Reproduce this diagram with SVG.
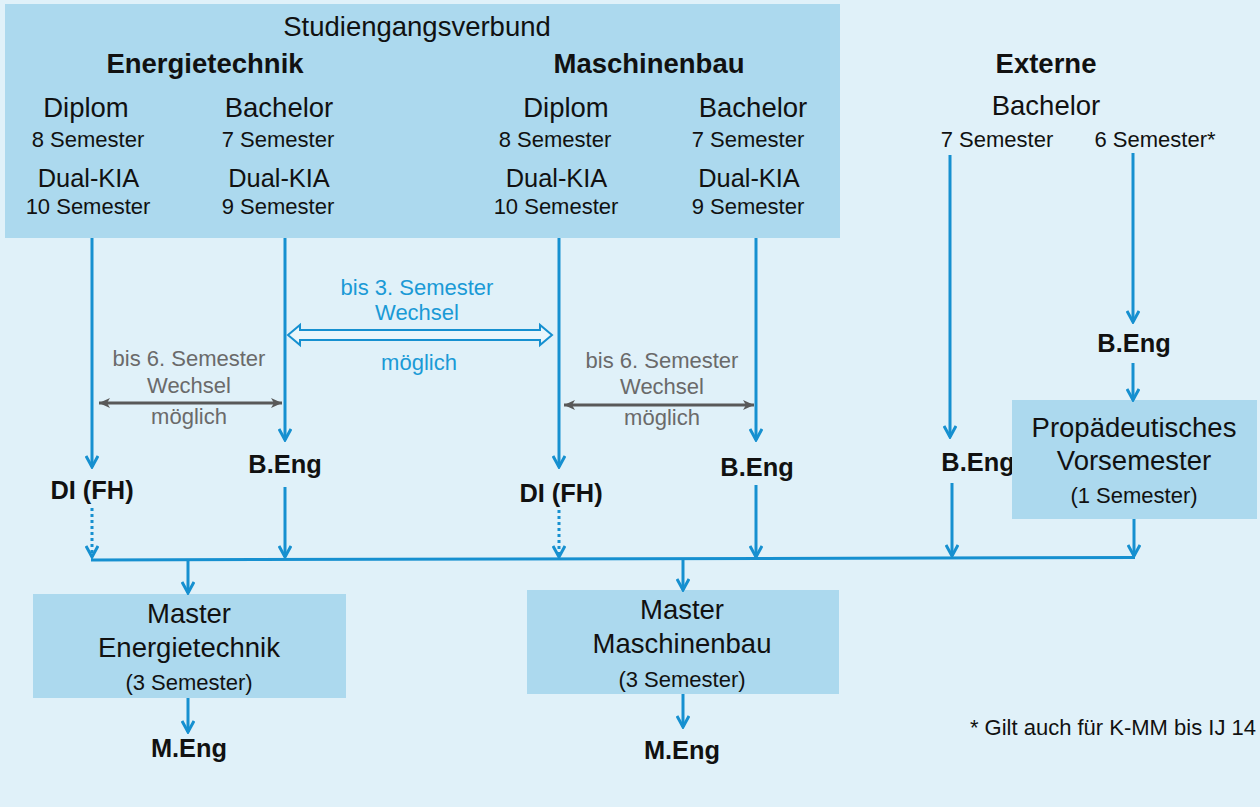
<svg xmlns="http://www.w3.org/2000/svg" width="1260" height="807" viewBox="0 0 1260 807">
<style>
text{font-family:"Liberation Sans",Arial,sans-serif;fill:#111;text-anchor:middle}
.b{font-weight:bold}
.t26{font-size:27.5px}
.t24{font-size:25.4px}
.t21{font-size:22px}
.box{fill:#acd9ee}
.ln{stroke:#1690d0;stroke-width:3;fill:none}
.dot{stroke:#1690d0;stroke-width:3;fill:none;stroke-dasharray:3 3}
.gl{stroke:#595959;stroke-width:3;fill:none}
.blue{fill:#1a9ad6}
.grey{fill:#6a6a6a}
</style>
<defs>
<marker id="ah" viewBox="0 0 14 14" refX="12.5" refY="7" markerWidth="14" markerHeight="14" markerUnits="userSpaceOnUse" orient="auto">
<path d="M1.5,1 L12.5,7 L1.5,13" fill="none" stroke="#1690d0" stroke-width="3"/>
</marker>
<marker id="gh" viewBox="0 0 12 12" refX="11" refY="6" markerWidth="12" markerHeight="12" markerUnits="userSpaceOnUse" orient="auto-start-reverse">
<path d="M0,1 L11,6 L0,11 L3,6 Z" fill="#595959"/>
</marker>
</defs>
<rect x="0" y="0" width="1260" height="807" fill="#e0f1f9"/>

<g id="verbund">
<rect class="box" x="5" y="4" width="835" height="234"/>
<text class="t26" x="417" y="36">Studiengangsverbund</text>
</g>
<g id="energietechnik">
<text class="b t26" x="205" y="73">Energietechnik</text>
<text class="t26" x="86" y="117">Diplom</text>
<text class="t21" x="88" y="147">8 Semester</text>
<text class="t24" x="88.5" y="187">Dual-KIA</text>
<text class="t21" x="88" y="214">10 Semester</text>
<text class="t26" x="279" y="117">Bachelor</text>
<text class="t21" x="278" y="147">7 Semester</text>
<text class="t24" x="279" y="187">Dual-KIA</text>
<text class="t21" x="278" y="214">9 Semester</text>
</g>
<g id="maschinenbau">
<text class="b t26" x="649" y="73">Maschinenbau</text>
<text class="t26" x="566" y="117">Diplom</text>
<text class="t21" x="555" y="147">8 Semester</text>
<text class="t24" x="556.5" y="187">Dual-KIA</text>
<text class="t21" x="556" y="214">10 Semester</text>
<text class="t26" x="753" y="117">Bachelor</text>
<text class="t21" x="748" y="147">7 Semester</text>
<text class="t24" x="749" y="187">Dual-KIA</text>
<text class="t21" x="748" y="214">9 Semester</text>
</g>
<g id="externe">
<text class="b t26" x="1046" y="73">Externe</text>
<text class="t26" x="1046" y="115">Bachelor</text>
<text class="t21" x="997" y="147">7 Semester</text>
<text class="t21" x="1155" y="147">6 Semester*</text>
</g>

<g id="wechsel-et">
<text class="t21 grey" x="189" y="366">bis 6. Semester</text>
<text class="t21 grey" x="189" y="393">Wechsel</text>
<text class="t21 grey" x="189" y="424">möglich</text>
</g>
<g id="wechsel-mid">
<text class="t21 blue" x="417" y="295">bis 3. Semester</text>
<text class="t21 blue" x="417" y="320">Wechsel</text>
<text class="t21 blue" x="419" y="370">möglich</text>
</g>
<g id="wechsel-mb">
<text class="t21 grey" x="662" y="368">bis 6. Semester</text>
<text class="t21 grey" x="662" y="394">Wechsel</text>
<text class="t21 grey" x="662" y="425">möglich</text>
</g>

<g id="di-et"><text class="b t24" x="92" y="499">DI (FH)</text></g>
<g id="beng-et"><text class="b t24" x="285" y="473">B.Eng</text></g>
<g id="di-mb"><text class="b t24" x="561" y="502">DI (FH)</text></g>
<g id="beng-mb"><text class="b t24" x="757" y="476">B.Eng</text></g>
<g id="beng-ext7"><text class="b t24" x="978" y="471">B.Eng</text></g>
<g id="beng-ext6"><text class="b t24" x="1134" y="352">B.Eng</text></g>

<g id="vorsemester">
<rect class="box" x="1012" y="400" width="245" height="119"/>
<text class="t26" x="1134" y="437">Propädeutisches</text>
<text class="t26" x="1134" y="470">Vorsemester</text>
<text class="t21" x="1134" y="503">(1 Semester)</text>
</g>
<g id="master-et">
<rect class="box" x="33" y="594" width="313" height="104"/>
<text class="t26" x="189" y="623">Master</text>
<text class="t26" x="189" y="657">Energietechnik</text>
<text class="t21" x="189" y="690">(3 Semester)</text>
</g>
<g id="master-mb">
<rect class="box" x="527" y="590" width="312" height="104"/>
<text class="t26" x="682" y="619">Master</text>
<text class="t26" x="682" y="653">Maschinenbau</text>
<text class="t21" x="682" y="687">(3 Semester)</text>
</g>
<g id="meng-et"><text class="b t24" x="189" y="757">M.Eng</text></g>
<g id="meng-mb"><text class="b t24" x="682" y="759">M.Eng</text></g>
<g id="footnote"><text class="t21" x="1256" y="735" style="text-anchor:end">* Gilt auch für K-MM bis IJ 14</text></g>

<g id="connectors">
<line class="ln" x1="92" y1="238" x2="92" y2="467" marker-end="url(#ah)"/>
<line class="ln" x1="285" y1="238" x2="285" y2="440" marker-end="url(#ah)"/>
<line class="ln" x1="559" y1="238" x2="559" y2="467" marker-end="url(#ah)"/>
<line class="ln" x1="756" y1="238" x2="756" y2="440" marker-end="url(#ah)"/>
<line class="ln" x1="950" y1="155" x2="950" y2="437" marker-end="url(#ah)"/>
<line class="ln" x1="1133" y1="153" x2="1133" y2="322" marker-end="url(#ah)"/>
<line class="ln" x1="1133" y1="363" x2="1133" y2="400" marker-end="url(#ah)"/>

<line class="gl" x1="99" y1="403" x2="282" y2="403" marker-start="url(#gh)" marker-end="url(#gh)"/>
<line class="gl" x1="564" y1="405" x2="754" y2="405" marker-start="url(#gh)" marker-end="url(#gh)"/>
<polygon points="288,335 300,325 300,330 540,330 540,325 552,335 540,345 540,340 300,340 300,345" fill="#eaf6fb" stroke="#1690d0" stroke-width="2" stroke-linejoin="miter"/>

<line class="dot" x1="92" y1="508" x2="92" y2="557" marker-end="url(#ah)"/>
<line class="ln" x1="285" y1="487" x2="285" y2="557" marker-end="url(#ah)"/>
<line class="dot" x1="559" y1="510" x2="559" y2="557" marker-end="url(#ah)"/>
<line class="ln" x1="756" y1="485" x2="756" y2="557" marker-end="url(#ah)"/>
<line class="ln" x1="952" y1="483" x2="952" y2="556" marker-end="url(#ah)"/>
<line class="ln" x1="1134" y1="519" x2="1134" y2="556" marker-end="url(#ah)"/>
<line class="ln" x1="91" y1="560" x2="1135" y2="557.5"/>

<line class="ln" x1="188" y1="560" x2="188" y2="593" marker-end="url(#ah)"/>
<line class="ln" x1="683" y1="559" x2="683" y2="590" marker-end="url(#ah)"/>
<line class="ln" x1="188" y1="698" x2="188" y2="732" marker-end="url(#ah)"/>
<line class="ln" x1="683" y1="694" x2="683" y2="727" marker-end="url(#ah)"/>
</g>
</svg>
